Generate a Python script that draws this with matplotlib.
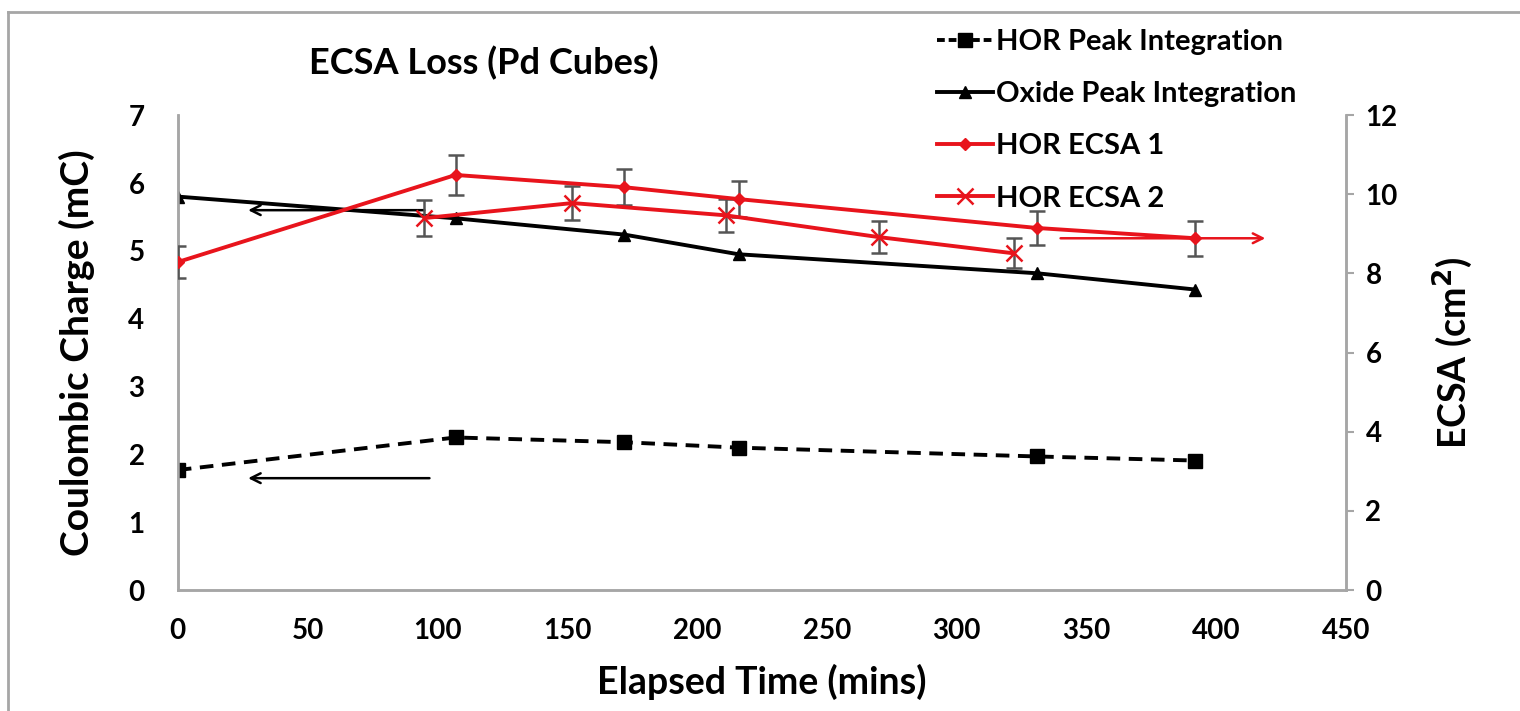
import matplotlib as mpl
import matplotlib.pyplot as plt
from matplotlib.lines import Line2D

mpl.rcParams.update(
    {
        "font.family": ["Lato", "DejaVu Sans"],
        "font.weight": "bold",
        "axes.linewidth": 1.8,
    }
)

# HOR peak integration & oxide peak integration (left axis, mC)
t_peak = [0, 107, 172, 216, 331, 392]
hor_peak = [1.77, 2.25, 2.18, 2.10, 1.97, 1.91]
oxide_peak = [5.80, 5.48, 5.24, 4.95, 4.67, 4.43]

# HOR ECSA 1 (right axis, cm2)
t_ecsa1 = [0, 107, 172, 216, 331, 392]
ecsa1 = [8.29, 10.49, 10.18, 9.88, 9.15, 8.89]
ecsa1_err = [0.40, 0.50, 0.45, 0.45, 0.44, 0.44]

# HOR ECSA 2 (right axis, cm2)
t_ecsa2 = [95, 152, 211, 270, 322]
ecsa2 = [9.40, 9.78, 9.47, 8.92, 8.51]
ecsa2_err = [0.45, 0.42, 0.42, 0.40, 0.38]

RED = "#e8141c"
GRAY = "#a6a6a6"
ERR = "#555555"

fig = plt.figure(figsize=(15.2, 7.11), dpi=100)
ax = fig.add_axes([0.117, 0.170, 0.7685, 0.668])
ax2 = ax.twinx()

ax.plot(t_peak, hor_peak, color="black", lw=2.8, ls=(0, (3.5, 2.2)), marker="s", ms=10, zorder=3)
ax.plot(t_peak, oxide_peak, color="black", lw=2.8, marker="^", ms=9, zorder=3)

ax2.errorbar(t_ecsa1, ecsa1, yerr=ecsa1_err, color=RED, lw=2.8, marker="D", ms=6,
             ecolor=ERR, elinewidth=1.8, capsize=6, capthick=1.8, zorder=3)
ax2.errorbar(t_ecsa2, ecsa2, yerr=ecsa2_err, color=RED, lw=2.8, marker="x", ms=12, mew=1.8,
             ecolor=ERR, elinewidth=1.8, capsize=6, capthick=1.8, zorder=3)

# annotation arrows
arrow_kw = dict(arrowstyle="->,head_length=0.7,head_width=0.35", lw=1.8)
ax.annotate("", xy=(26, 1.65), xytext=(98, 1.65), arrowprops=dict(color="black", **arrow_kw))
ax.annotate("", xy=(26, 5.6), xytext=(96, 5.6), arrowprops=dict(color="black", **arrow_kw))
ax2.annotate("", xy=(420, 8.89), xytext=(339, 8.89), arrowprops=dict(color=RED, **arrow_kw))

ax.set_xlim(0, 450)
ax.set_ylim(0, 7)
ax2.set_ylim(0, 12)
ax.set_xticks(range(0, 451, 50))
ax.set_yticks(range(0, 8))
ax2.set_yticks(range(0, 13, 2))

for a in (ax, ax2):
    a.spines["top"].set_visible(False)
    for s in ("left", "right", "bottom"):
        a.spines[s].set_color(GRAY)
ax.tick_params(axis="both", length=0, labelsize=20, pad=20)
ax.tick_params(axis="y", pad=24)
ax2.tick_params(axis="y", length=6, width=1.5, color=GRAY, labelsize=20, pad=8)

ax.set_xlabel("Elapsed Time (mins)", fontsize=27, fontweight="bold", labelpad=14)
ax.set_ylabel("Coulombic Charge (mC)", fontsize=28, fontweight="bold", labelpad=24)
ax2.set_ylabel("ECSA (cm$^\\mathbf{2}$)", fontsize=27, fontweight="bold", labelpad=24)

fig.text(0.318, 0.912, "ECSA Loss (Pd Cubes)", fontsize=26, fontweight="bold", ha="center", va="center")

handles = [
    Line2D([], [], color="black", lw=2.8, ls=(0, (2.0, 1.0)), marker="s", ms=10),
    Line2D([], [], color="black", lw=2.8, marker="^", ms=9),
    Line2D([], [], color=RED, lw=2.8, marker="D", ms=6),
    Line2D([], [], color=RED, lw=2.8, marker="x", ms=12, mew=1.8),
]
labels = ["HOR Peak Integration", "Oxide Peak Integration", "HOR ECSA 1", "HOR ECSA 2"]
fig.legend(handles, labels, loc="upper left", bbox_to_anchor=(0.607, 0.98), frameon=False,
           fontsize=21, handlelength=1.9, handletextpad=0.1, labelspacing=0.9, borderpad=0)

# outer frame (top and left edges visible)
fig.add_artist(Line2D([8 / 1520, 1.0], [1 - 12 / 711] * 2, color=GRAY, lw=2, transform=fig.transFigure))
fig.add_artist(Line2D([8 / 1520] * 2, [0.0, 1 - 12 / 711], color=GRAY, lw=2, transform=fig.transFigure))

fig.savefig("out.png", dpi=100)
